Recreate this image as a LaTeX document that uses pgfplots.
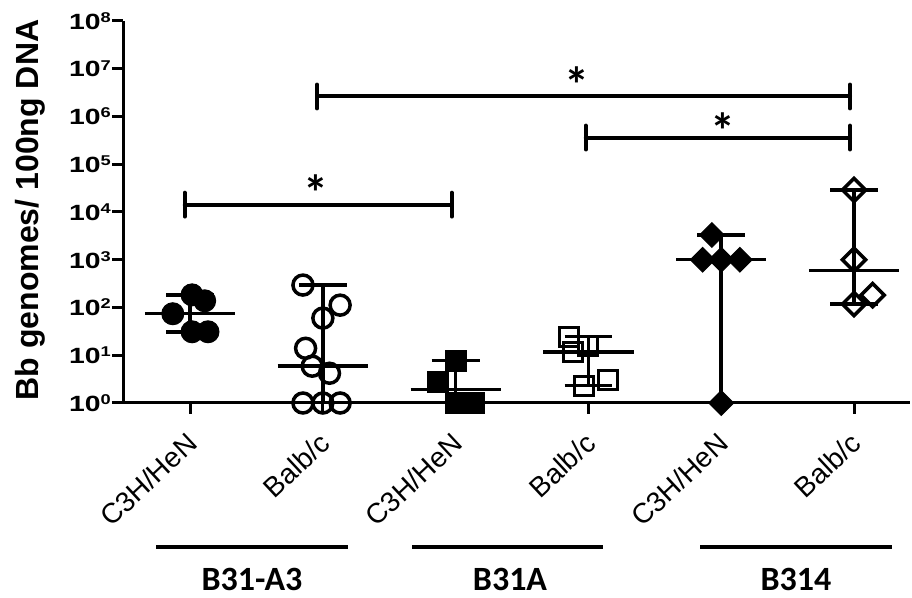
\documentclass[border=0pt]{standalone}
\usepackage{graphicx}
\usepackage{pgfplots}
\pgfplotsset{compat=1.18}
\usepackage{fontspec}
\setmainfont{Liberation Sans}
\newfontfamily\calibri{Carlito}
\newcommand{\tp}[1]{\scalebox{1.35}[1.05]{\bfseries 10\raisebox{6.5pt}{\fontsize{13.5}{14}\selectfont\bfseries #1}}}

\pgfplotsset{
  wl/.style={black, line width=3.5pt},
  br/.style={black, line width=4pt, line cap=round},
  fcirc/.style={only marks, mark=*, mark size=11pt, mark options={fill=black, draw=black, line width=1pt}},
  ocirc/.style={only marks, mark=o, mark size=10pt, mark options={draw=black, line width=3.5pt}},
  fsq/.style={only marks, mark=square*, mark size=10.5pt, mark options={fill=black, draw=black, line width=1pt}},
  osq/.style={only marks, mark=square, mark size=9.5pt, mark options={draw=black, line width=3pt}},
  fdia/.style={only marks, mark=square*, mark size=8.7pt, mark options={rotate=45, fill=black, draw=black, line width=1pt}},
  odia/.style={only marks, mark=square, mark size=8.2pt, mark options={rotate=45, draw=black, line width=3.5pt}},
}

\begin{document}
\begin{tikzpicture}
\path[use as bounding box] (0pt,0pt) rectangle (912pt,597pt);
\begin{axis}[
  at={(123pt,194pt)}, anchor=south west,
  scale only axis, width=786.8pt, height=382pt,
  xmin=-0.505, xmax=5.42,
  ymode=log, ymin=1, ymax=1e8,
  axis x line*=bottom, axis y line*=left,
  axis line style={line width=3pt, black},
  xtick={0,1,2,3,4,5},
  xticklabels={C3H/HeN,Balb/c,C3H/HeN,Balb/c,C3H/HeN,Balb/c},
  ytick={1,10,100,1000,10000,100000,1000000,10000000,100000000},
  yticklabels={\tp{0},\tp{1},\tp{2},\tp{3},\tp{4},\tp{5},\tp{6},\tp{7},\tp{8}},
  yminorticks=false,
  tick align=outside, major tick length=11pt,
  tick style={line width=3pt, black},
  yticklabel style={font=\fontsize{21}{25}\selectfont, inner sep=1pt, anchor=east},
  xticklabel style={xshift=-5pt, yshift=-17pt, rotate=43, anchor=north east, font=\fontsize{28}{33}\selectfont, inner sep=0pt},
  clip=false,
]
% whiskers group 1
\addplot[wl] coordinates {(0,31) (0,184)};
\addplot[wl] coordinates {(-0.18,184) (0.18,184)};
\addplot[wl] coordinates {(-0.18,31) (0.18,31)};
\addplot[wl] coordinates {(-0.34,74) (0.34,74)};
% group 2
\addplot[wl] coordinates {(1,1) (1,295)};
\addplot[wl] coordinates {(0.82,295) (1.18,295)};
\addplot[wl] coordinates {(0.66,5.9) (1.34,5.9)};
% group 3
\addplot[wl] coordinates {(2,1) (2,7.7)};
\addplot[wl] coordinates {(1.82,7.7) (2.18,7.7)};
\addplot[wl] coordinates {(1.66,1.9) (2.34,1.9)};
% group 4
\addplot[wl] coordinates {(3,2.3) (3,24.5)};
\addplot[wl] coordinates {(2.82,24.5) (3.18,24.5)};
\addplot[wl] coordinates {(2.82,2.3) (3.18,2.3)};
\addplot[wl] coordinates {(2.66,11.8) (3.34,11.8)};
% group 5
\addplot[wl] coordinates {(4,1) (4,3300)};
\addplot[wl] coordinates {(3.82,3300) (4.18,3300)};
\addplot[wl] coordinates {(3.66,1000) (4.34,1000)};
% group 6
\addplot[wl] coordinates {(5,118) (5,29000)};
\addplot[wl] coordinates {(4.82,29000) (5.18,29000)};
\addplot[wl] coordinates {(4.82,118) (5.18,118)};
\addplot[wl] coordinates {(4.66,600) (5.34,600)};

% data points
\addplot[fcirc] coordinates {(0.015,184) (0.11,138) (-0.13,74) (0.015,31) (0.135,31)};
\addplot[ocirc] coordinates {(0.85,295) (1.13,112) (1,60) (0.87,14) (0.92,5.9) (1.05,4.2) (0.85,1) (1,1) (1.13,1)};
\addplot[fsq] coordinates {(2,7.7) (1.87,2.8) (2,1) (2.14,1)};
\addplot[osq] coordinates {(2.85,24.5) (3,15.6) (2.88,11.8) (3.15,3.0) (2.97,2.3)};
\addplot[fdia] coordinates {(3.93,3300) (3.86,1000) (4,1000) (4.14,1000) (4,1)};
\addplot[odia] coordinates {(5,29000) (5,1000) (5.14,182) (5,118)};

% significance brackets
\addplot[br] coordinates {(-0.04,8017) (-0.04,25350)};
\addplot[br] coordinates {(-0.04,14256) (1.97,14256)};
\addplot[br] coordinates {(1.97,8017) (1.97,25350)};
\addplot[br] coordinates {(0.956,1476000) (0.956,4667000)};
\addplot[br] coordinates {(0.956,2624000) (4.97,2624000)};
\addplot[br] coordinates {(4.97,1476000) (4.97,4667000)};
\addplot[br] coordinates {(2.98,203700) (2.98,644200)};
\addplot[br] coordinates {(2.98,362200) (4.97,362200)};
\addplot[br] coordinates {(4.97,203700) (4.97,644200)};

\node[anchor=north, inner sep=0pt, font=\calibri\bfseries\fontsize{50}{56}\selectfont] at (axis cs:0.949,59570) {*};
\node[anchor=north, inner sep=0pt, font=\calibri\bfseries\fontsize{50}{56}\selectfont] at (axis cs:2.914,10890000) {*};
\node[anchor=north, inner sep=0pt, font=\calibri\bfseries\fontsize{50}{56}\selectfont] at (axis cs:4.014,1183000) {*};
\end{axis}

\node[rotate=90, anchor=base, inner sep=0pt, font=\bfseries\fontsize{32}{38}\selectfont] at (38pt,387pt) {Bb genomes/ 100ng DNA};

\draw[line width=4pt] (156pt,50pt) -- (348pt,50pt);
\draw[line width=4pt] (412pt,50pt) -- (603pt,50pt);
\draw[line width=4pt] (700pt,50pt) -- (892pt,50pt);
\node[anchor=base, inner sep=0pt, font=\calibri\bfseries\fontsize{34}{40}\selectfont] at (252pt,7pt) {B31-A3};
\node[anchor=base, inner sep=0pt, font=\calibri\bfseries\fontsize{34}{40}\selectfont] at (510pt,7pt) {B31A};
\node[anchor=base, inner sep=0pt, font=\calibri\bfseries\fontsize{34}{40}\selectfont] at (796pt,7pt) {B314};
\end{tikzpicture}
\end{document}
